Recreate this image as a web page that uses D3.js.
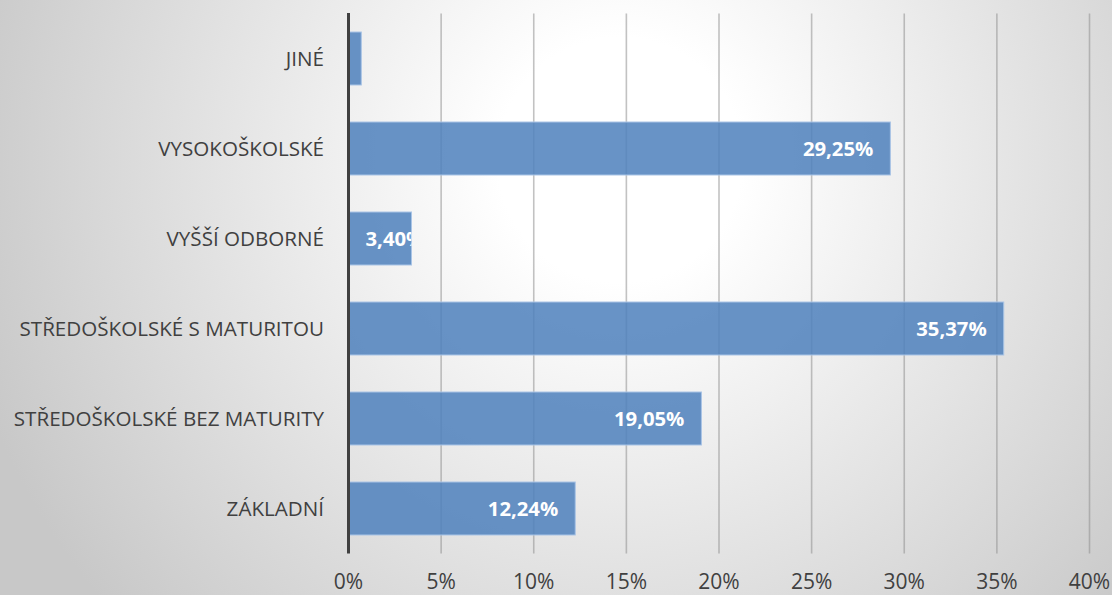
<!DOCTYPE html>
<html>
<head>
<meta charset="utf-8">
<script src="https://cdn.jsdelivr.net/npm/d3@7"></script>
<style>
  html, body { margin: 0; padding: 0; }
  body { width: 1112px; height: 595px; overflow: hidden; }
  svg { display: block; font-family: "Open Sans", sans-serif; }
</style>
</head>
<body>
<svg id="chart" width="1112" height="595"></svg>
<script>
// Education level categories, top to bottom
const categories = [
  "JINÉ",
  "VYSOKOŠKOLSKÉ",
  "VYŠŠÍ ODBORNÉ",
  "STŘEDOŠKOLSKÉ S MATURITOU",
  "STŘEDOŠKOLSKÉ BEZ MATURITY",
  "ZÁKLADNÍ"
];
// Share of respondents (fraction)
const shares = [0.0069, 0.2925, 0.0340, 0.3537, 0.1905, 0.1224];
// Which bars carry a value label
const showLabel = [false, true, true, true, true, true];
// X axis ticks
const ticks = [0, 0.05, 0.10, 0.15, 0.20, 0.25, 0.30, 0.35, 0.40];

const W = 1112, H = 595;
const svg = d3.select("#chart");

// Soft radial background
const defs = svg.append("defs");
const grad = defs.append("radialGradient")
  .attr("id", "bg").attr("gradientUnits", "userSpaceOnUse")
  .attr("cx", 620).attr("cy", 160).attr("r", 680);
grad.append("stop").attr("offset", 0).attr("stop-color", "#ffffff");
grad.append("stop").attr("offset", 0.18).attr("stop-color", "#ffffff");
grad.append("stop").attr("offset", 1).attr("stop-color", "#c8c8c8");
svg.append("rect").attr("width", W).attr("height", H).attr("fill", "url(#bg)");

const x = d3.scaleLinear().domain([0, 0.40]).range([348.5, 1089.5]);
const y = d3.scaleBand().domain(categories).range([13.5, 553.5])
  .paddingInner(37 / 90).paddingOuter(37 / 180);

const fmtTick = d => d3.format(".0%")(d);
const fmtVal = d => (d * 100).toFixed(2).replace(".", ",") + "%";

// Vertical gridlines
svg.append("g").selectAll("line").data(ticks.slice(1)).join("line")
  .attr("x1", d => x(d)).attr("x2", d => x(d))
  .attr("y1", 13.5).attr("y2", 553.5)
  .attr("stroke", "#909090").attr("stroke-opacity", 0.55).attr("stroke-width", 1.6);

// Tick labels
svg.append("g").selectAll("text").data(ticks).join("text")
  .attr("x", d => x(d)).attr("y", 582)
  .attr("dy", "0.35em").attr("text-anchor", "middle")
  .attr("font-size", 21).attr("fill", "#404040")
  .text(fmtTick);

// Bars
const bars = svg.append("g");
bars.selectAll("rect").data(categories).join("rect")
  .attr("x", x(0)).attr("y", d => y(d))
  .attr("width", (d, i) => x(shares[i]) - x(0))
  .attr("height", y.bandwidth())
  .attr("fill", "#4f81bd").attr("fill-opacity", 0.86)
  .attr("stroke", "#a9c4e6").attr("stroke-width", 1);

// Clip paths so labels stay inside their bars
categories.forEach((c, i) => {
  defs.append("clipPath").attr("id", "clip" + i).append("rect")
    .attr("x", x(0)).attr("y", y(c))
    .attr("width", x(shares[i]) - x(0)).attr("height", y.bandwidth());
});

// Value labels at inside end
const pad = 17;
const labels = svg.append("g");
categories.forEach((c, i) => {
  if (!showLabel[i]) return;
  const g = labels.append("g").attr("clip-path", `url(#clip${i})`);
  const t = g.append("text")
    .attr("y", y(c) + y.bandwidth() / 2).attr("dy", "0.35em")
    .attr("font-size", 20.3).attr("font-weight", 700).attr("fill", "#ffffff")
    .attr("text-anchor", "end")
    .text(fmtVal(shares[i]));
  const tw = t.node().getComputedTextLength();
  const xEnd = Math.max(x(shares[i]) - pad, x(0) + pad + tw);
  t.attr("x", xEnd);
});

// Category labels
svg.append("g").selectAll("text").data(categories).join("text")
  .attr("x", 324).attr("y", d => y(d) + y.bandwidth() / 2)
  .attr("dy", "0.35em").attr("text-anchor", "end")
  .attr("font-size", 20.6).attr("fill", "#404040")
  .text(d => d);

// Vertical axis line
svg.append("line")
  .attr("x1", x(0)).attr("x2", x(0))
  .attr("y1", 13).attr("y2", 553.5)
  .attr("stroke", "#404040").attr("stroke-width", 3);
</script>
</body>
</html>
